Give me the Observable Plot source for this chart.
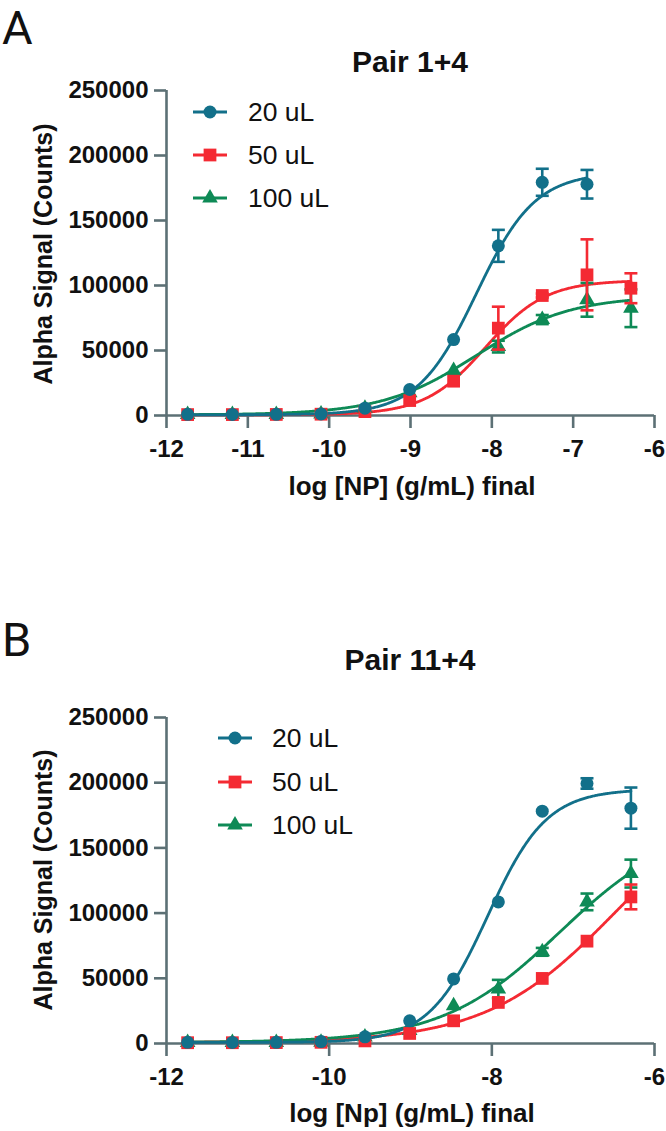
<!DOCTYPE html>
<html>
<head>
<meta charset="utf-8">
<script src="https://cdn.jsdelivr.net/npm/d3@7"></script>
<script src="https://cdn.jsdelivr.net/npm/@observablehq/plot@0.6"></script>
<style>
  html, body { margin: 0; padding: 0; background: #fff; }
  #root { position: relative; width: 666px; height: 1131px; overflow: hidden; font-family: "Liberation Sans", Arial, sans-serif; }
  .abs { position: absolute; white-space: nowrap; }
  .panelLetter { font-family: Roboto, "Liberation Sans", sans-serif; font-size: 47px; line-height: 52px; color: #111; }
  .title { font-weight: bold; font-size: 30px; line-height: 30px; color: #111; transform: translateX(-50%); }
  .xtitle { font-weight: bold; font-size: 26px; line-height: 26px; color: #111; transform: translateX(-50%); }
  .ytitle { font-weight: bold; font-size: 25px; line-height: 25px; color: #111; transform: translate(-50%, -50%) rotate(-90deg); }
  .legtext { font-size: 26.5px; line-height: 26.5px; color: #111; }
  .plotwrap svg text { font-weight: bold; }
</style>
</head>
<body>
<div id="root"></div>
<script>
// ---------- data ----------
const series = ["20 uL", "50 uL", "100 uL"];
const colors = ["#12708a", "#f42a33", "#0e8a56"];
const symbolNames = ["circle", "square", "triangle"];
const symbolR = [6.5, 7.2, 5.8];

const xLog = [-11.74, -11.19, -10.65, -10.10, -9.56, -9.01, -8.47, -7.92, -7.38, -6.83, -6.29];

const xDomain = [-12, -6];
const yDomain = [0, 250000];
const yTicks = [0, 50000, 100000, 150000, 200000, 250000];
const xTicksA = [-12, -11, -10, -9, -8, -7, -6];
const xTicksB = [-12, -10, -8, -6];

// Panel A: Pair 1+4
const a20 = [900, 800, 900, 1200, 5600, 20000, 58400, 130500, 179400, 177900];
const a20Err = [0, 0, 0, 0, 0, 0, 0, 12300, 10400, 11000];
const a50 = [700, 700, 800, 1000, 3000, 11500, 26400, 67200, 92300, 108200, 97900];
const a50Err = [0, 0, 0, 0, 0, 0, 0, 16500, 1500, 27300, 11500];
const a100 = [700, 700, 800, 1100, 5500, 17500, 34600, 53000, 73800, 89000, 82500];
const a100Err = [0, 0, 0, 0, 0, 0, 0, 4500, 3500, 13000, 14500];
// fitted 4PL parameters (20, 50, 100 uL)
const fitBottomA = [500, 500, 500];
const fitTopA = [187000, 104000, 92000];
const fitLogEC50A = [-8.19, -8.08, -8.19];
const fitHillA = [1.2, 1.17, 0.75];

// Panel B: Pair 11+4
const b20 = [900, 800, 900, 1500, 5100, 17400, 49500, 108600, 178200, 199400, 180500];
const b20Err = [0, 0, 0, 0, 0, 0, 0, 0, 0, 4000, 15800];
const b50 = [600, 600, 700, 900, 2000, 7700, 17400, 31500, 49900, 78500, 112400];
const b50Err = [0, 0, 0, 0, 0, 0, 0, 0, 0, 0, 9500];
const b100 = [700, 700, 800, 1000, 5000, 10000, 29000, 41800, 70300, 108600, 130300];
const b100Err = [0, 0, 0, 0, 0, 0, 0, 7000, 3000, 6400, 10700];
const fitBottomB = [800, 800, 800];
const fitTopB = [195000, 200000, 170000];
const fitLogEC50B = [-8.05, -6.486, -7.165];
const fitHillB = [1.2, 0.55, 0.6];

// ---------- helpers ----------
const axisColor = "#5c7075";
const capSymbol = {
  draw(context, size) {
    const r = Math.sqrt(size / Math.PI);
    context.moveTo(-r, 0);
    context.lineTo(r, 0);
  }
};

function points(vals, errs) {
  return vals.map((v, i) => ({ x: xLog[i], y: v, err: errs[i] }));
}
function fitCurve(k, bottom, top, ec50, hill, xEnd) {
  const xs = d3.range(xLog[0], xEnd, 0.01).concat([xEnd]);
  return xs.map(x => ({ x, y: bottom[k] + (top[k] - bottom[k]) / (1 + Math.pow(10, hill[k] * (ec50[k] - x))) }));
}

function makePlot(opts) {
  const { data, errs, bottom, top, ec50, hill, xTicks, height, marginTop, marginBottom } = opts;
  const pts = data.map((d, k) => points(d, errs[k]));
  const curves = data.map((d, k) => fitCurve(k, bottom, top, ec50, hill, xLog[d.length - 1]));
  const lineOrder = [1, 2, 0];
  const dotOrder = [2, 1, 0];
  const marks = [
    Plot.ruleX([xDomain[0]], { stroke: axisColor, strokeWidth: 2.6 }),
    Plot.ruleY([yDomain[0]], { stroke: axisColor, strokeWidth: 2.6 }),
    Plot.axisY({ ticks: yTicks, tickSize: 12, tickPadding: 6, tickFormat: d => String(d), stroke: axisColor, strokeWidth: 2.6, fill: "#111", label: null }),
    Plot.axisX({ ticks: xTicks, tickSize: 13, tickPadding: 11, tickFormat: d => String(d), stroke: axisColor, strokeWidth: 2.6, fill: "#111", label: null })
  ];
  for (const k of lineOrder) {
    marks.push(Plot.line(curves[k], { x: "x", y: "y", stroke: colors[k], strokeWidth: 2.8, curve: "linear" }));
  }
  for (const k of dotOrder) {
    const e = pts[k].filter(d => d.err > 0);
    marks.push(Plot.ruleX(e, { x: "x", y1: d => d.y - d.err, y2: d => d.y + d.err, stroke: colors[k], strokeWidth: 2.6 }));
    marks.push(Plot.dot(e, { x: "x", y: d => d.y + d.err, symbol: capSymbol, r: 6.5, stroke: colors[k], strokeWidth: 2.6, fill: "none" }));
    marks.push(Plot.dot(e, { x: "x", y: d => d.y - d.err, symbol: capSymbol, r: 6.5, stroke: colors[k], strokeWidth: 2.6, fill: "none" }));
    marks.push(Plot.dot(pts[k], { x: "x", y: "y", symbol: symbolNames[k], r: symbolR[k], fill: colors[k], stroke: "none" }));
  }
  return Plot.plot({
    width: 666,
    height,
    marginLeft: 166,
    marginRight: 12,
    marginTop,
    marginBottom,
    x: { domain: xDomain, axis: null },
    y: { domain: yDomain, axis: null },
    style: { fontFamily: "'Liberation Sans', Arial, sans-serif", fontSize: "24px", background: "transparent", overflow: "visible", color: "#111" },
    marks
  });
}

const root = document.getElementById("root");
function addDiv(cls, text, left, top) {
  const d = document.createElement("div");
  d.className = "abs " + cls;
  d.textContent = text;
  d.style.left = left + "px";
  d.style.top = top + "px";
  root.appendChild(d);
  return d;
}
function addLegend(cx, textLeft, rows, half) {
  const symTypes = [d3.symbolCircle, d3.symbolSquare, d3.symbolTriangle];
  rows.forEach((cy, k) => {
    const ns = "http://www.w3.org/2000/svg";
    const svg = document.createElementNS(ns, "svg");
    svg.setAttribute("width", 50); svg.setAttribute("height", 24);
    svg.style.position = "absolute";
    svg.style.left = (cx - 25) + "px";
    svg.style.top = (cy - 12) + "px";
    const line = document.createElementNS(ns, "line");
    line.setAttribute("x1", 25 - half); line.setAttribute("x2", 25 + half);
    line.setAttribute("y1", 12); line.setAttribute("y2", 12);
    line.setAttribute("stroke", colors[k]); line.setAttribute("stroke-width", 2.8);
    svg.appendChild(line);
    const p = document.createElementNS(ns, "path");
    p.setAttribute("d", d3.symbol(symTypes[k], Math.PI * symbolR[k] * symbolR[k])());
    p.setAttribute("transform", "translate(25,12)");
    p.setAttribute("fill", colors[k]);
    svg.appendChild(p);
    root.appendChild(svg);
    addDiv("legtext", series[k], textLeft, cy - 13);
  });
}

// ---------- panel A ----------
{
  const wrap = document.createElement("div");
  wrap.className = "abs plotwrap";
  wrap.style.left = "0px"; wrap.style.top = "60px";
  wrap.appendChild(makePlot({
    data: [a20, a50, a100], errs: [a20Err, a50Err, a100Err],
    bottom: fitBottomA, top: fitTopA, ec50: fitLogEC50A, hill: fitHillA,
    xTicks: xTicksA, height: 410, marginTop: 30, marginBottom: 55
  }));
  root.appendChild(wrap);
  addDiv("panelLetter", "A", 2, 2);
  addDiv("title", "Pair 1+4", 410, 47);
  addDiv("xtitle", "log [NP] (g/mL) final", 412, 473);
  addDiv("ytitle", "Alpha Signal (Counts)", 43, 254);
  addLegend(210, 248, [112, 155, 198], 17);
}

// ---------- panel B ----------
{
  const wrap = document.createElement("div");
  wrap.className = "abs plotwrap";
  wrap.style.left = "0px"; wrap.style.top = "690px";
  wrap.appendChild(makePlot({
    data: [b20, b50, b100], errs: [b20Err, b50Err, b100Err],
    bottom: fitBottomB, top: fitTopB, ec50: fitLogEC50B, hill: fitHillB,
    xTicks: xTicksB, height: 405, marginTop: 27, marginBottom: 52
  }));
  root.appendChild(wrap);
  addDiv("panelLetter", "B", 2, 614);
  addDiv("title", "Pair 11+4", 410, 645);
  addDiv("xtitle", "log [Np] (g/mL) final", 412, 1100);
  addDiv("ytitle", "Alpha Signal (Counts)", 43, 880);
  addLegend(235, 272, [738, 782, 825], 17);
}
</script>
</body>
</html>
